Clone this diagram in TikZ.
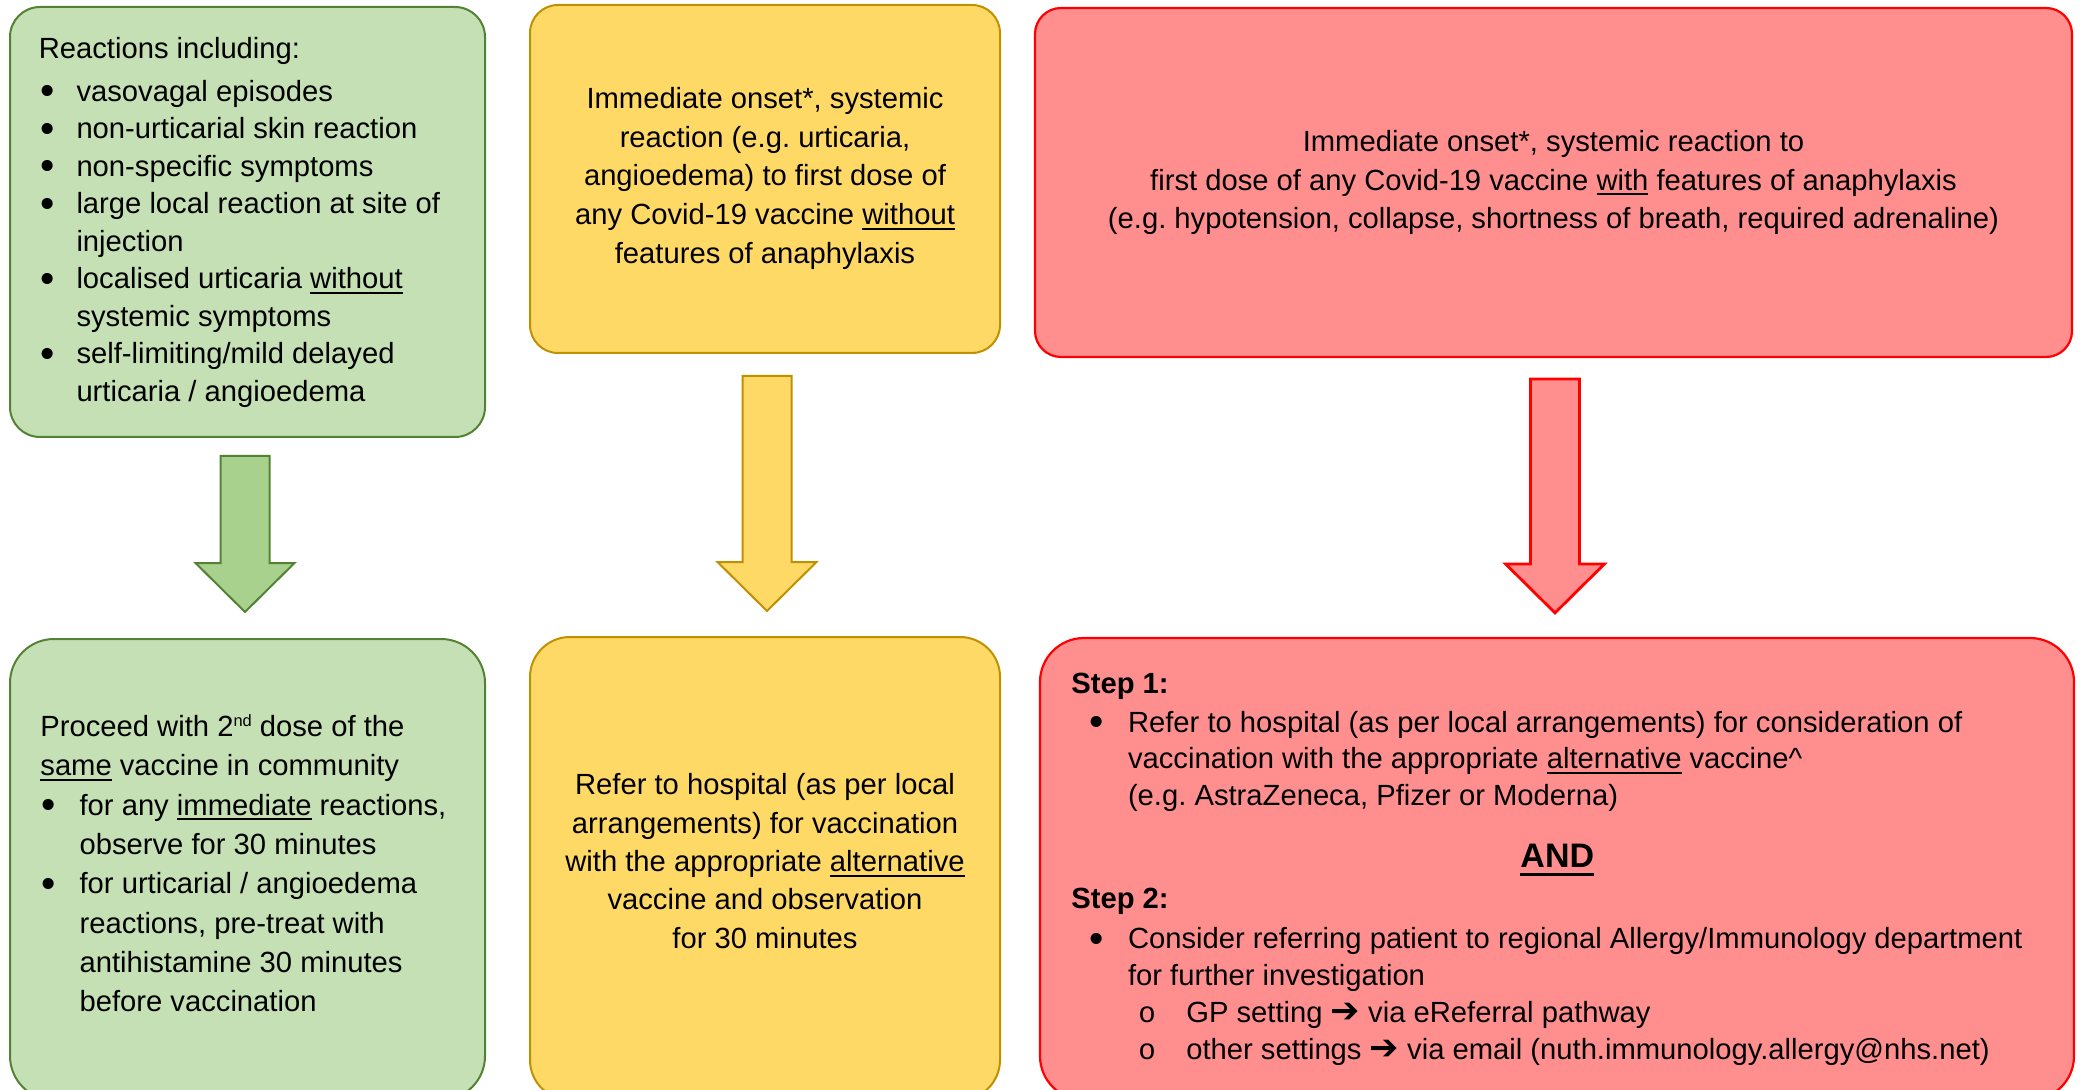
\documentclass[tikz,border=0pt]{standalone}
\usepackage{fontspec}
\setmainfont{Liberation Sans}
\newfontfamily\arrowfont{DejaVu Sans}
\newfontfamily\circlefont{Liberation Mono}
\usetikzlibrary{calc}
\frenchspacing

\definecolor{gfill}{HTML}{C5E0B4}
\definecolor{gline}{HTML}{548235}
\definecolor{garrowfill}{HTML}{A9D18E}
\definecolor{yfill}{HTML}{FFD966}
\definecolor{yline}{HTML}{BF9000}
\definecolor{rfill}{HTML}{FF8F8F}
\definecolor{rline}{HTML}{FF0000}

\newcommand{\undl}[1]{\setbox0\hbox{#1}\rlap{\rule[-2.6pt]{\wd0}{1.1pt}}\box0\relax}
\newcommand{\sups}[1]{\raisebox{5pt}{\fontsize{8.2}{9}\selectfont #1}}
\newcommand{\bigbul}{\raisebox{-1.7pt}{\fontsize{20.4}{20}\selectfont\textbullet}}
\newcommand{\bitem}[3]{\makebox[#2][l]{\hspace*{#1}\bigbul}#3}
\newcommand{\bcont}[2]{\hspace*{#1}#2}
\newcommand{\oitem}[3]{\makebox[#2][l]{\hspace*{#1}{\circlefont o}}#3}
\newcommand{\rarr}{{\arrowfont\bfseries\fontsize{17.5}{18}\selectfont ➔}}
\newcommand{\blockarrow}[3]{%
  \draw[#1] let \p1=(#2), \p2=(#3) in
    (\x1-12.25pt,\y1) -- (\x1+12.25pt,\y1) -- (\x1+12.25pt,\y2+24.5pt)
    -- (\x1+24.75pt,\y2+24.5pt) -- (\x1,\y2) -- (\x1-24.75pt,\y2+24.5pt)
    -- (\x1-12.25pt,\y2+24.5pt) -- cycle;}

\tikzset{
  gbox/.style={draw=gline, fill=gfill, line width=1pt, rounded corners=15pt},
  ybox/.style={draw=yline, fill=yfill, line width=1pt, rounded corners=14pt},
  rbox/.style={draw=rline, fill=rfill, line width=1.1pt, rounded corners=13pt},
  garrow/.style={draw=gline, fill=garrowfill, line width=1pt},
  yarrow/.style={draw=yline, fill=yfill, line width=1pt},
  rarrow/.style={draw=rline, fill=rfill, line width=1.4pt},
  txt/.style={font=\fontsize{14.6}{#1}\selectfont, inner sep=0pt}
}

\begin{document}
\begin{tikzpicture}[x=0.5pt, y=-0.5pt]
\clip (0,0) rectangle (2081,1090);

% top row
\node (gtop) at (247.5,222) [gbox, minimum width=237.5pt, minimum height=215pt] {};
\node (ytop) at (765,179) [ybox, minimum width=235pt, minimum height=174pt] {};
\node (rtop) at (1553.5,182.5) [rbox, minimum width=518.5pt, minimum height=174.5pt] {};

% bottom row
\node (gbot) at (247.5,869.5) [gbox, rounded corners=22pt, minimum width=237.5pt, minimum height=230.5pt] {};
\node (ybot) at (765,868.5) [ybox, rounded corners=20pt, minimum width=235pt, minimum height=231.5pt] {};
\node (rbot) at (1557,869) [rbox, rounded corners=22pt, minimum width=517pt, minimum height=231pt] {};

\node (gtop-text) [txt=18.75pt, align=left, anchor=west] at ($(gtop.west)+(29.4,0.3)$) {%
Reactions including:\\[2.6pt]
\bitem{0.6pt}{18.85pt}{vasovagal episodes}\\
\bitem{0.6pt}{18.85pt}{non-urticarial skin reaction}\\
\bitem{0.6pt}{18.85pt}{non-specific symptoms}\\
\bitem{0.6pt}{18.85pt}{large local reaction at site of}\\
\bcont{18.85pt}{injection}\\
\bitem{0.6pt}{18.85pt}{localised urticaria \undl{without}}\\
\bcont{18.85pt}{systemic symptoms}\\
\bitem{0.6pt}{18.85pt}{self-limiting/mild delayed}\\
\bcont{18.85pt}{urticaria / angioedema}};

\node (ytop-text) [txt=19.375pt, align=center] at ($(ytop.center)+(0,-0.6)$) {%
Immediate onset*, systemic\\
reaction (e.g. urticaria,\\
angioedema) to first dose of\\
any Covid-19 vaccine \undl{without}\\
features of anaphylaxis};

\node (rtop-text) [txt=19.17pt, align=center] at (rtop.center) {%
Immediate onset*, systemic reaction to\\
first dose of any Covid-19 vaccine \undl{with} features of anaphylaxis\\
(e.g. hypotension, collapse, shortness of breath, required adrenaline)};

\node (gbot-text) [txt=19.64pt, align=left, anchor=west] at ($(gbot.west)+(31,-6.2)$) {%
Proceed with 2\sups{nd} dose of the\\
\undl{same} vaccine in community\\
\bitem{0.45pt}{19.6pt}{for any \undl{immediate} reactions,}\\
\bcont{19.6pt}{observe for 30 minutes}\\
\bitem{0.45pt}{19.6pt}{for urticarial / angioedema}\\
\bcont{19.6pt}{reactions, pre-treat with}\\
\bcont{19.6pt}{antihistamine 30 minutes}\\
\bcont{19.6pt}{before vaccination}};

\node (ybot-text) [txt=19.17pt, align=center] at ($(ybot.center)+(0,-7.4)$) {%
Refer to hospital (as per local\\
arrangements) for vaccination\\
with the appropriate \undl{alternative}\\
vaccine and observation\\
for 30 minutes};

\node (rbot-text) [txt=18.35pt, align=left, anchor=west] at ($(rbot.west)+(32,0.3)$) {%
\textbf{Step 1:}\\[0.8pt]
\bitem{9pt}{28.35pt}{Refer to hospital (as per local arrangements) for consideration of}\\
\bcont{28.35pt}{vaccination with the appropriate \undl{alternative} vaccine\textasciicircum}\\
\bcont{28.35pt}{(e.g. AstraZeneca, Pfizer or Moderna)}\\[12.5pt]
\makebox[486pt][c]{\fontsize{17}{20}\selectfont\bfseries\setbox0\hbox{AND}\rlap{\rule[-4.5pt]{\wd0}{1.6pt}}\box0\relax}\\[2.5pt]
\textbf{Step 2:}\\[1.65pt]
\bitem{9pt}{28.35pt}{Consider referring patient to regional Allergy/Immunology department}\\
\bcont{28.35pt}{for further investigation}\\
\oitem{33.5pt}{57.5pt}{GP setting \rarr{} via eReferral pathway}\\
\oitem{33.5pt}{57.5pt}{other settings \rarr{} via email (nuth.immunology.allergy@nhs.net)}};

% arrows between the rows
\coordinate (ga-top) at ($(gtop.south)+(-2.5,18)$);
\coordinate (ga-tip) at ($(gbot.north)+(-2.5,-26)$);
\coordinate (ya-top) at ($(ytop.south)+(2,22)$);
\coordinate (ya-tip) at ($(ybot.north)+(2,-25)$);
\coordinate (ra-top) at ($(rtop.south)+(1.5,21)$);
\coordinate (ra-tip) at ($(rbot.north)+(-2,-24)$);
\blockarrow{garrow}{ga-top}{ga-tip}
\blockarrow{yarrow}{ya-top}{ya-tip}
\blockarrow{rarrow}{ra-top}{ra-tip}
\end{tikzpicture}
\end{document}
